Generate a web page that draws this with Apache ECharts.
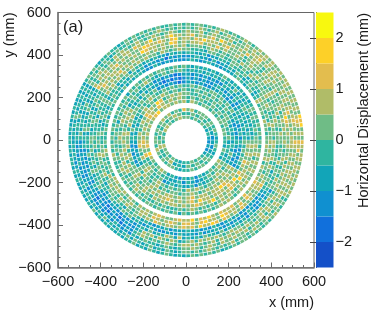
<!DOCTYPE html>
<html><head><meta charset="utf-8">
<style>html,body{margin:0;padding:0;background:#fff}#c{width:374px;height:315px;filter:blur(0.35px)}</style>
<script src="https://cdn.jsdelivr.net/npm/echarts@6/dist/echarts.min.js"></script>
</head><body><div id="c"></div>
<script>
// Estimated colour class (0..9) of every cell, ring by ring, 30-degree groups counter-clockwise from +x.
const innerBand = [
"343 454 545 565 456 645 465 545 434 454 543 232",
"234 545 454 456 545 454 564 456 343 545 454 323",
"3454 5455 5465 7454 6565 4545 5465 4545 5434 4545 5454 3454"];
const middleBand = [
"45545 54545 54564 65656 65876 56565 67586 54565 34324 34243 45456 34534",
"54455 45454 45454 56565 67567 65656 76574 45454 43342 43234 54565 43443",
"434345 544454 545445 565654 785667 565465 675464 565445 234343 342434 456545 345343",
"323234 454545 454544 545456 545465 343434 323343 565456 545454 656545 565656 323234",
"2432343 5454545 5445454 4545454 4565454 4343534 3232323 5465456 4545545 5654565 6565656 2323234",
"4343434 3232343 3223233 2123232 5454545 5656465 5646545 5645565 6566565 6756656 6876565 3454545",
"34343434 32423234 32232323 21212123 34353434 65654565 65656465 56545656 56676565 67586656 66576857 56756565",
"43434345 43434342 23232323 32123232 43434543 56565456 54565656 45565654 65656656 56765685 65676586 65656565",
"545445454 434353434 343434343 454545434 565454545 454535454 545454565 454565454 454544454 565454545 656545656 565646565",
"454545454 343434345 434343434 545445545 454545354 545454545 454654454 545454545 545454535 454545456 565456565 565656545"];
const outerBand = [
"5455645546 4354345433 3233432343 2232323422 3443435344 5445354544 5465445546 6556565465 6567655676 6857686576 6756575667 6556465565",
"5546454556 4345434534 3324233432 2323132332 4345343445 4534543454 4556454465 5665456556 6576567657 7657866587 6657576566 5645565656",
"45565445655 54454354445 34433243344 34342334343 44535443544 35444534454 54465545645 65546565456 56576566567 67586687576 56576565567 65556465566",
"55456545546 55545645455 44545534445 56545645565 65656565656 45445354445 45354454543 45545435454 34323342333 43323243234 34232332334 45435454445",
"564554655456 545565455645 545456545554 656556565655 565657656565 454534454345 545445354454 434543454534 323432233243 332423343232 323243223234 544554645545",
"556565465556 456554565456 556575657665 657856566785 655565665675 445434544534 443534453445 323233223232 343534465363 434354435343 434243234342 556454565456",
"5656786565546 5565645565465 5576566686756 6587567667865 5656576566567 4343453434534 3423232343243 2322123212322 3465646546534 5646565654565 5454545645654 5655656465565",
"6565657656565 5656545665756 5656857656576 5668656586567 5665656565646 3443543344354 2323323223233 2132212321232 4565454565456 6565456465656 6565456565465 6566565656566",
"5656765656565 5566565766565 5465556546556 5456545654565 4565645456545 3434343534434 3232342323423 3223233243232 4345443454345 5654565465565 5645656465656 6565665656567",
"56567656565656 56565656656565 45565465456545 45454565454454 54454345454545 34343434534343 34343234343434 43434353434345 35434534354345 54545654545645 54565456545654 65656566565767",
"56587856565656 65655656565456 54545654545545 45454454545454 54344544345454 34343343433434 43434434343343 34353434343434 45343543454343 45454545344545 54545454565454 56565656566567"];
const binColors = ["#1450c8","#1170dc","#1090d0","#12a5b8","#2fb5a0","#6fbc86","#b0bc68","#e3bd4e","#fdd028","#f8f80f"];
const binEdges = [-2.5,-2,-1.5,-1,-0.5,0,0.5,1,1.5,2,2.5];
const axisTicks = [-600,-400,-200,0,200,400,600];
const barTicks = [-2,-1,0,1,2];
const bands = [[innerBand,98,152],[middleBand,173,356],[outerBand,370,553]];

const cells = [];
bands.forEach(([rings,r0,r1]) => {
  const pitch = (r1 - r0) / rings.length;
  rings.forEach((s,i) => {
    const cs = s.replace(/ /g,'');
    cs.split('').forEach((d,k) => {
      cells.push([r0 + i*pitch, r0 + (i+1)*pitch, k*2*Math.PI/cs.length, (k+1)*2*Math.PI/cs.length, (+d)*0.5 - 2.25]);
    });
  });
});
const colorOf = v => binColors[Math.max(0,Math.min(9,Math.floor((v+2.5)*2)))];
const gap = 1.7;
function renderCell(p, api){
  const ra = api.value(0)+gap, rb = api.value(1)-gap;
  const ta = api.value(2), tb = api.value(3), tm=(ta+tb)/2;
  const ha = Math.max(0,(tb-ta)/2 - gap/ra), hb = Math.max(0,(tb-ta)/2 - gap/rb);
  const pts = [[ra,tm-ha],[rb,tm-hb],[rb,tm+hb],[ra,tm+ha]].map(([r,t]) => api.coord([r*Math.cos(t), r*Math.sin(t)]));
  return {type:'polygon', shape:{points:pts}, style:{fill:colorOf(api.value(4))}};
}
function renderBin(p, api){
  const a = api.coord([0,api.value(0)]), b = api.coord([1,api.value(1)]);
  return {type:'rect', shape:{x:a[0],y:b[1],width:b[0]-a[0],height:a[1]-b[1]}, style:{fill:colorOf(api.value(2))}};
}
const font = 'Liberation Sans';
const minus = v => String(v).replace('-','\u2212');
const lineC = '#6a6a6a';
const mainAxis = (extra) => Object.assign({
  type:'value', min:-600, max:600, interval:200, splitLine:{show:false},
  axisLine:{show:true,onZero:false,lineStyle:{color:'#777',width:1.6}},
  axisTick:{show:true,inside:true,length:5,lineStyle:{color:lineC,width:1}},
  minorTick:{show:true,splitNumber:4,length:2.5,lineStyle:{color:lineC,width:1}},
  axisLabel:{color:'#1a1a1a',fontFamily:font,fontSize:14.5,margin:7,formatter:minus,hideOverlap:false,showMinLabel:true,showMaxLabel:true,customValues:axisTicks}
},extra);
const chart = echarts.init(document.getElementById('c'),null,{renderer:'canvas'});
chart.setOption({
  animation:false,
  backgroundColor:'#fff',
  grid:[
    {left:58,top:12.5,width:256,height:255,outerBoundsMode:'none',show:true,borderColor:'#666',borderWidth:1,backgroundColor:'#fff'},
    {left:316,top:12.5,width:17.5,height:255,outerBoundsMode:'none'}
  ],
  xAxis:[
    mainAxis({gridIndex:0,name:'x (mm)',nameLocation:'end',nameGap:0,nameTextStyle:{color:'#1a1a1a',fontFamily:font,fontSize:14.5,align:'right',verticalAlign:'top',padding:[28,0,0,0]}}),
    {gridIndex:1,type:'value',min:0,max:1,show:false}
  ],
  yAxis:[
    mainAxis({gridIndex:0,name:'y (mm)',nameLocation:'end',nameRotate:90,nameGap:0,nameTextStyle:{color:'#1a1a1a',fontFamily:font,fontSize:14.5,align:'right',verticalAlign:'bottom',padding:[0,0,41,0]}}),
    {gridIndex:1,type:'value',position:'right',min:-2.5,max:2.5,splitLine:{show:false},
     axisLine:{show:true,lineStyle:{color:'#555',width:1}},
     axisTick:{show:true,inside:true,length:6,customValues:barTicks,lineStyle:{color:'#444',width:1}},
     axisLabel:{color:'#1a1a1a',fontFamily:font,fontSize:14.5,margin:2,formatter:minus,customValues:barTicks}}
  ],
  graphic:[
    {type:'text',left:63,top:19,style:{text:'(a)',fontFamily:font,fontSize:16.5,fill:'#1a1a1a'}},
    {type:'text',x:364,y:13,rotation:Math.PI/2,style:{text:'Horizontal Displacement (mm)',fontFamily:font,fontSize:14.5,fill:'#1a1a1a',textAlign:'right',textVerticalAlign:'middle'}}
  ],
  series:[
    {type:'custom',xAxisIndex:0,yAxisIndex:0,coordinateSystem:'cartesian2d',renderItem:renderCell,data:cells,silent:true,encode:{x:[],y:[]}},
    {type:'custom',xAxisIndex:1,yAxisIndex:1,coordinateSystem:'cartesian2d',renderItem:renderBin,silent:true,encode:{x:[],y:[0,1]},
     data:binEdges.slice(0,-1).map((e,i)=>[e,binEdges[i+1],e+0.25])}
  ]
});
</script></body></html>
